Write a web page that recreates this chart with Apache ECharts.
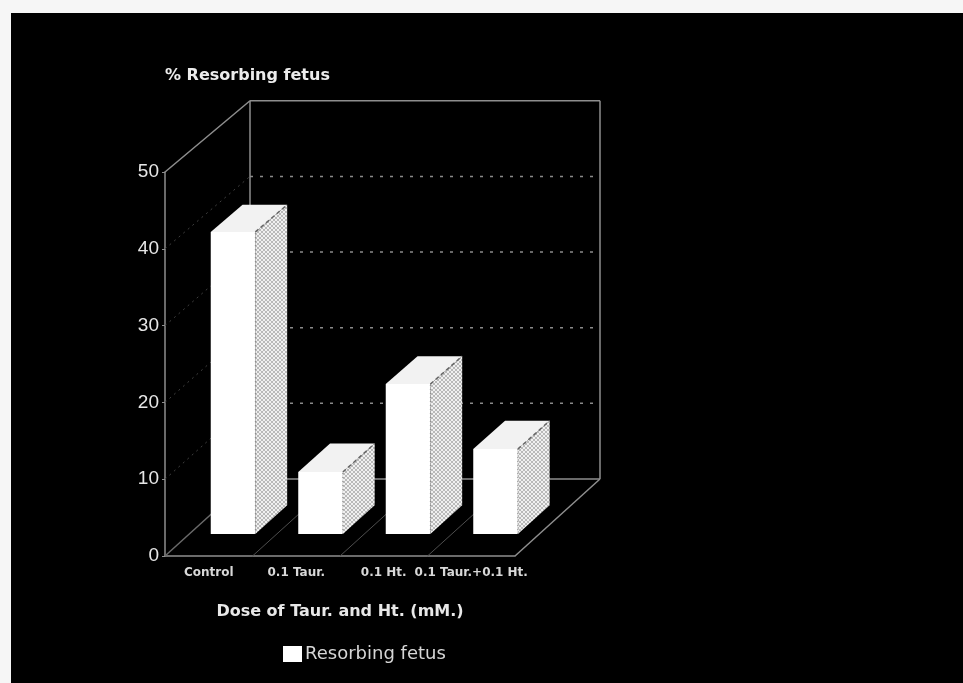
<!DOCTYPE html>
<html><head><meta charset="utf-8">
<script src="https://cdn.jsdelivr.net/npm/echarts@6/dist/echarts.min.js"></script>
<style>
html,body{margin:0;padding:0;background:#f6f6f6;width:963px;height:683px;overflow:hidden}
#c{position:absolute;left:11px;top:13px;width:952px;height:670px;background:#000}
</style>
</head><body><div id="c"></div>
<script>
// ---- data ----
const categories = ['Control', '0.1 Taur.', '0.1 Ht.', '0.1 Taur.+0.1 Ht.'];
const values = [39.5, 8.1, 19.6, 11.1];
const yTicks = [0, 10, 20, 30, 40, 50];
const seriesName = 'Resorbing fetus';
const yTitle = '% Resorbing fetus';
const xTitle = 'Dose of Taur. and Ht. (mM.)';

// ---- 3D look (style constants) ----
const DX = 85, DY = 77, SHRINK = 0.015;
const T1 = 0.286, T2 = 0.66, BAR_FRAC = 0.51;
const FONT = 'DejaVu Sans';

function makePattern() {
  const cv = document.createElement('canvas');
  cv.width = 4; cv.height = 4;
  const g = cv.getContext('2d');
  g.fillStyle = '#f0f0f0'; g.fillRect(0, 0, 4, 4);
  g.fillStyle = '#b9b9b9';
  g.fillRect(0, 0, 2, 2); g.fillRect(2, 2, 2, 2);
  return cv;
}
const sidePattern = { image: makePattern(), repeat: 'repeat' };

function projector(api) {
  const y0 = api.coord([0, 0])[1];
  return function (x, v, t) {
    const yv = api.coord([0, v])[1];
    return [x + DX * t, y0 - DY * t - (y0 - yv) * (1 - SHRINK * t)];
  };
}

function renderFrame(params, api) {
  const cs = params.coordSys;
  const x0 = cs.x, x1 = cs.x + cs.width;
  const P = projector(api);
  const vmax = yTicks[yTicks.length - 1];
  const children = [];
  const line = (a, b, st) => children.push({
    type: 'line', silent: true,
    shape: { x1: a[0], y1: a[1], x2: b[0], y2: b[1] },
    style: Object.assign({ stroke: '#8e8e8e', lineWidth: 1.5 }, st || {})
  });
  yTicks.slice(1, -1).forEach(v => {
    line(P(x0, v, 0), P(x0, v, 1), { stroke: '#404040', lineWidth: 1, lineDash: [2, 4] });
  });
  const bw = cs.width / categories.length;
  for (let i = 1; i < categories.length; i++) {
    const x = x0 + i * bw;
    line(P(x, 0, 0), P(x, 0, 1), { stroke: '#4e4e4e', lineWidth: 1 });
  }
  yTicks.slice(1, -1).forEach(v => {
    line(P(x0, v, 1), P(x1, v, 1), { stroke: '#8a8a8a', lineWidth: 1.5, lineDash: [3, 7] });
  });
  line(P(x0, 0, 1), P(x0, vmax, 1));
  line(P(x0, vmax, 1), P(x1, vmax, 1));
  line(P(x1, vmax, 1), P(x1, 0, 1));
  line(P(x0, 0, 1), P(x1, 0, 1));
  line(P(x0, vmax, 0), P(x0, vmax, 1));
  line(P(x0, 0, 0), P(x0, 0, 1), { stroke: '#6a6a6a' });
  line(P(x1, 0, 0), P(x1, 0, 1));
  return { type: 'group', children };
}

function renderBar(params, api) {
  const idx = api.value(0), v = api.value(1);
  const c = api.coord([idx, v]);
  const bw = api.size([1, 0])[0];
  const w = bw * BAR_FRAC;
  const xl = c[0] - w / 2, xr = c[0] + w / 2;
  const P = projector(api);
  const poly = (pts, st) => ({ type: 'polygon', shape: { points: pts }, style: st });
  const fl0 = P(xl, 0, T1), fr0 = P(xr, 0, T1), frv = P(xr, v, T1), flv = P(xl, v, T1);
  const br0 = P(xr, 0, T2), brv = P(xr, v, T2), blv = P(xl, v, T2);
  return {
    type: 'group',
    children: [
      poly([fr0, br0, brv, frv], { fill: sidePattern, stroke: null }),
      poly([flv, frv, brv, blv], { fill: '#f2f2f2', stroke: null }),
      poly([fl0, fr0, frv, flv], { fill: '#ffffff', stroke: null }),
      { type: 'line', shape: { x1: frv[0], y1: frv[1], x2: brv[0], y2: brv[1] },
        style: { stroke: '#666', lineWidth: 1.5, lineDash: [4, 3] } },
      { type: 'line', shape: { x1: fr0[0], y1: fr0[1], x2: frv[0], y2: frv[1] },
        style: { stroke: '#888', lineWidth: 1, lineDash: [1, 3] } }
    ]
  };
}

const chart = echarts.init(document.getElementById('c'), null, { renderer: 'canvas' });
chart.setOption({
  backgroundColor: '#000',
  animation: false,
  textStyle: { fontFamily: FONT },
  grid: { left: 154, top: 159, width: 350, height: 384 },
  legend: {
    left: 272, top: 632, padding: 0, itemWidth: 19, itemHeight: 16, itemGap: 5,
    data: [{ name: seriesName, icon: 'rect', itemStyle: { color: '#ffffff' } }],
    textStyle: { color: '#d6d6d6', fontSize: 18, fontFamily: FONT, padding: [0, 0, 0, -2] }
  },
  xAxis: {
    type: 'category', data: categories,
    axisLine: { lineStyle: { color: '#8e8e8e', width: 1.5 } },
    axisTick: { show: false },
    axisLabel: { interval: 0, color: '#d8d8d8', fontSize: 12, fontWeight: 'bold', margin: 11, fontFamily: FONT },
    name: xTitle, nameLocation: 'middle', nameGap: 48,
    nameTextStyle: { color: '#e8e8e8', fontSize: 16, fontWeight: 'bold', fontFamily: FONT }
  },
  yAxis: {
    type: 'value', min: yTicks[0], max: yTicks[yTicks.length - 1], interval: 10,
    axisLine: { show: true, lineStyle: { color: '#8e8e8e', width: 1.5 } },
    axisTick: { show: true, length: 3, lineStyle: { color: '#8e8e8e' } },
    splitLine: { show: false },
    axisLabel: { color: '#e6e6e6', fontSize: 19, margin: 6, fontFamily: 'Liberation Sans' },
    name: yTitle, nameLocation: 'end', nameGap: 88,
    nameTextStyle: { color: '#ececec', fontSize: 16, fontWeight: 'bold', align: 'left', fontFamily: FONT }
  },
  series: [
    { type: 'custom', name: 'frame', silent: true, clip: false, z: 1,
      renderItem: renderFrame, data: [[0, 0]] },
    { type: 'custom', name: seriesName, clip: false, z: 3,
      itemStyle: { color: '#ffffff' },
      renderItem: renderBar, data: values.map((v, i) => [i, v]) }
  ]
});
</script>
</body></html>
